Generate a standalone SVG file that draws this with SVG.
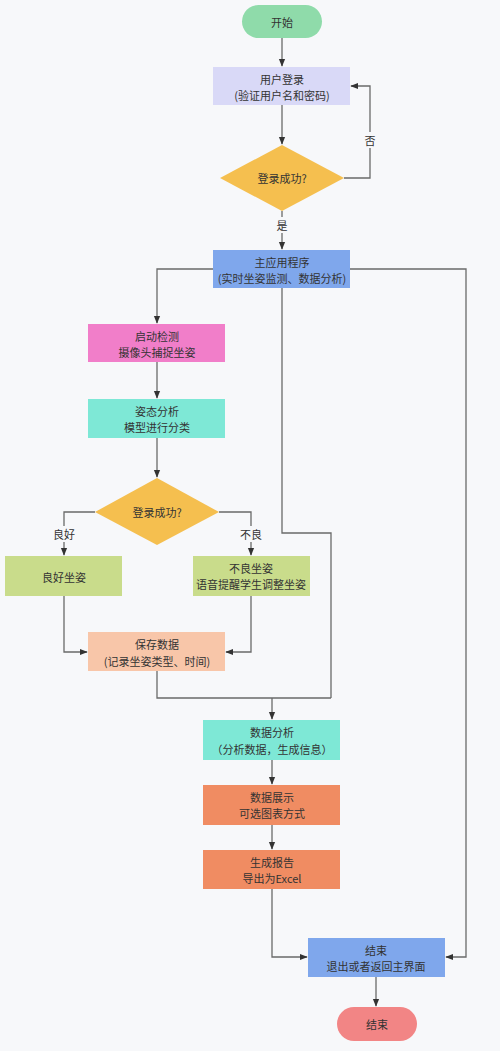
<svg xmlns="http://www.w3.org/2000/svg" width="500" height="1051" viewBox="0 0 500 1051">
<defs>
<marker id="ah" viewBox="0 0 10 10" refX="9" refY="5" markerWidth="6" markerHeight="6" orient="auto-start-reverse">
<path d="M0,1 L10,5 L0,9 z" fill="#333"/>
</marker>
<style>
text{font-family:"Noto Sans CJK SC","Noto Sans",sans-serif;font-size:11px;fill:#333;text-anchor:middle;dominant-baseline:central}
.ln{fill:none;stroke:#6a6a6a;stroke-width:1.3}
.ar{marker-end:url(#ah)}
.lbl{font-size:11px}
</style>
</defs>
<rect x="0" y="0" width="500" height="1051" fill="#f7f8fa"/>
<g id="connectors">
<path class="ln ar" d="M282,38 V66"/>
<path class="ln ar" d="M282,105 V144"/>
<path class="ln ar" d="M344,178 H370 V86 H351"/>
<path class="ln ar" d="M282,211 V249"/>
<path class="ln ar" d="M213,269 H157 V323"/>
<path class="ln ar" d="M350,269 H466 V957 H446"/>
<path class="ln" d="M282,288 V533 H331 V698"/>
<path class="ln ar" d="M157,362 V398"/>
<path class="ln ar" d="M157,438 V477"/>
<path class="ln ar" d="M95,512 H64 V555"/>
<path class="ln ar" d="M219,512 H251 V555"/>
<path class="ln ar" d="M64,596 V652 H87"/>
<path class="ln ar" d="M251,596 V652 H226"/>
<path class="ln" d="M157,671 V698 H331"/>
<path class="ln ar" d="M272,698 V719"/>
<path class="ln ar" d="M272,760 V784"/>
<path class="ln ar" d="M272,825 V849"/>
<path class="ln ar" d="M272,889 V957 H307"/>
<path class="ln ar" d="M376,977 V1006"/>
<rect x="362" y="132" width="16" height="16" fill="#f7f8fa"/>
<text class="lbl" x="370" y="140">否</text>
<rect x="274" y="217" width="16" height="16" fill="#f7f8fa"/>
<text class="lbl" x="282" y="225">是</text>
<rect x="50" y="526" width="28" height="16" fill="#f7f8fa"/>
<text class="lbl" x="64" y="534">良好</text>
<rect x="237" y="526" width="28" height="16" fill="#f7f8fa"/>
<text class="lbl" x="251" y="534">不良</text>
</g>
<g id="start">
<rect x="242" y="5" width="80" height="33" rx="16.5" fill="#8fdbaa"/>
<text x="282" y="22">开始</text>
</g>
<g id="login">
<rect x="213" y="67" width="137" height="38" fill="#d9d9f7"/>
<text x="282" y="79">用户登录</text>
<text x="282" y="95">(验证用户名和密码)</text>
</g>
<g id="check1">
<polygon points="282,145 344,178 282,211 220,178" fill="#f5bf4f"/>
<text x="282" y="178">登录成功?</text>
</g>
<g id="main">
<rect x="213" y="250" width="137" height="38" fill="#7fa7ec"/>
<text x="282" y="262">主应用程序</text>
<text x="282" y="278">(实时坐姿监测、数据分析)</text>
</g>
<g id="detect">
<rect x="88" y="324" width="137" height="38" fill="#f17ec9"/>
<text x="157" y="336">启动检测</text>
<text x="157" y="352">摄像头捕捉坐姿</text>
</g>
<g id="analyze">
<rect x="88" y="399" width="137" height="39" fill="#7ee8d6"/>
<text x="157" y="411">姿态分析</text>
<text x="157" y="427">模型进行分类</text>
</g>
<g id="check2">
<polygon points="157,478 219,512 157,545 95,512" fill="#f5bf4f"/>
<text x="157" y="512">登录成功?</text>
</g>
<g id="good">
<rect x="5" y="556" width="117" height="40" fill="#c9dc8b"/>
<text x="64" y="577">良好坐姿</text>
</g>
<g id="bad">
<rect x="193" y="556" width="117" height="40" fill="#c9dc8b"/>
<text x="251" y="568">不良坐姿</text>
<text x="251" y="584">语音提醒学生调整坐姿</text>
</g>
<g id="save">
<rect x="88" y="632" width="137" height="39" fill="#f8c6a9"/>
<text x="157" y="644">保存数据</text>
<text x="157" y="661">(记录坐姿类型、时间)</text>
</g>
<g id="data-analysis">
<rect x="203" y="720" width="137" height="40" fill="#7ee8d6"/>
<text x="272" y="732">数据分析</text>
<text x="272" y="749">（分析数据，生成信息）</text>
</g>
<g id="display">
<rect x="203" y="785" width="137" height="40" fill="#f08c62"/>
<text x="272" y="797">数据展示</text>
<text x="272" y="813">可选图表方式</text>
</g>
<g id="report">
<rect x="203" y="850" width="137" height="39" fill="#f08c62"/>
<text x="272" y="862">生成报告</text>
<text x="272" y="878">导出为Excel</text>
</g>
<g id="end-box">
<rect x="308" y="938" width="137" height="39" fill="#7fa7ec"/>
<text x="376" y="950">结束</text>
<text x="376" y="966">退出或者返回主界面</text>
</g>
<g id="end">
<rect x="337" y="1007" width="80" height="34" rx="17" fill="#f28585"/>
<text x="377" y="1024">结束</text>
</g>
</svg>
